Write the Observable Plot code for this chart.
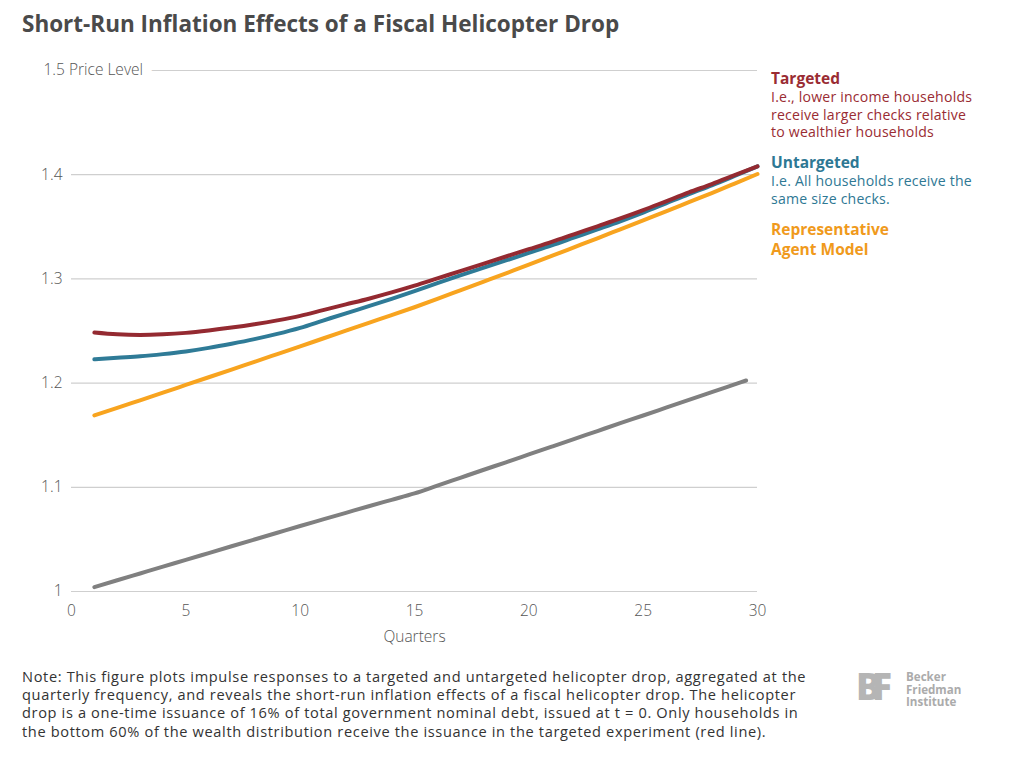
<!DOCTYPE html>
<html>
<head>
<meta charset="utf-8">
<script src="https://cdn.jsdelivr.net/npm/d3@7"></script>
<script src="https://cdn.jsdelivr.net/npm/@observablehq/plot@0.6"></script>
<style>
  html, body { margin: 0; padding: 0; background: #fff; }
  body { width: 1023px; height: 771px; position: relative; font-family: "Open Sans", Lato, sans-serif; overflow: hidden; }
  #title { position: absolute; left: 22px; top: 8px; font-size: 22.5px; font-weight: 700; color: #4a4a4a; white-space: nowrap; }
  #chart { position: absolute; left: 0; top: 45px; }
  .leg { position: absolute; left: 771px; }
  .leg .name { font-size: 15.5px; font-weight: 700; line-height: 20px; }
  .leg .desc { font-size: 14.1px; line-height: 17.5px; letter-spacing: 0.2px; }
  #note { position: absolute; left: 22px; top: 667px; font-size: 14.6px; line-height: 18.2px; letter-spacing: 0.64px; color: #333; white-space: nowrap; }
  #logo { position: absolute; left: 856px; top: 668px; color: #ababab; }
  #logo .mark { position: absolute; left: 0; top: -4px; font-size: 37px; font-weight: 800; letter-spacing: -9px; line-height: 44px; color: #b5b5b5; }
  #logo .txt { position: absolute; left: 50px; top: 3px; font-size: 11.6px; font-weight: 700; line-height: 12.7px; white-space: nowrap; }
</style>
</head>
<body>
<div id="title"></div>
<div id="chart"></div>
<div id="legend"></div>
<div id="note"></div>
<div id="logo"><div class="mark">BF</div><div class="txt">Becker<br>Friedman<br>Institute</div></div>
<script>
const titleText = "Short-Run Inflation Effects of a Fiscal Helicopter Drop";
const yAxisLabel = "Price Level";
const xAxisLabel = "Quarters";
const xTicks = [0, 5, 10, 15, 20, 25, 30];
const yTicks = [1, 1.1, 1.2, 1.3, 1.4, 1.5];

const quarters = [1,2,3,4,5,6,7,8,9,10,11,12,13,14,15,16,17,18,19,20,21,22,23,24,25,26,27,28,29,30];
const targeted = [1.2485,1.2468,1.2462,1.2468,1.2482,1.2505,1.2533,1.2565,1.2602,1.2645,1.2700,1.2755,1.2810,1.2870,1.2935,1.3005,1.3075,1.3145,1.3215,1.3285,1.3355,1.3430,1.3505,1.3580,1.3660,1.3745,1.3830,1.3910,1.3995,1.4080];
const untargeted = [1.2228,1.2243,1.2257,1.2278,1.2304,1.2338,1.2378,1.2422,1.2472,1.2530,1.2600,1.2670,1.2738,1.2808,1.2882,1.2959,1.3033,1.3105,1.3177,1.3249,1.3321,1.3398,1.3475,1.3553,1.3636,1.3725,1.3814,1.3898,1.3988,1.4080];
const representative = [1.1690,1.1762,1.1835,1.1908,1.1982,1.2056,1.2130,1.2204,1.2278,1.2352,1.2428,1.2503,1.2578,1.2652,1.2728,1.2808,1.2890,1.2972,1.3054,1.3136,1.3220,1.3305,1.3390,1.3476,1.3562,1.3648,1.3736,1.3824,1.3915,1.4007];
const grayQuarters = [1,2,3,4,5,6,7,8,9,10,11,12,13,14,15,16,17,18,19,20,21,22,23,24,25,26,27,28,29,29.5];
const baseline = [1.0042,1.0108,1.0173,1.0238,1.0304,1.0369,1.0434,1.0499,1.0564,1.0629,1.0692,1.0755,1.0818,1.0880,1.0942,1.1016,1.1091,1.1166,1.1240,1.1315,1.1390,1.1465,1.1540,1.1615,1.1689,1.1764,1.1839,1.1914,1.1988,1.2025];

const seriesNames = ["Targeted", "Untargeted", "Representative Agent Model", "Baseline"];
const seriesColors = ["#942a31", "#2f7b97", "#f8a41f", "#808080"];
const legendNames = [["Targeted"], ["Untargeted"], ["Representative", "Agent Model"]];
const legendNotes = [
  ["I.e., lower income households", "receive larger checks relative", "to wealthier households"],
  ["I.e. All households receive the", "same size checks."],
  []
];
const legendColors = ["#9a2c33", "#2e7894", "#f09a1c"];
const legendTops = [68, 152, 219];
const noteLines = [
  "Note: This figure plots impulse responses to a targeted and untargeted helicopter drop, aggregated at the",
  "quarterly frequency, and reveals the short-run inflation effects of a fiscal helicopter drop. The helicopter",
  "drop is a one-time issuance of 16% of total government nominal debt, issued at t = 0. Only households in",
  "the bottom 60% of the wealth distribution receive the issuance in the targeted experiment (red line)."
];

const rows = [];
const allSeries = [[quarters, targeted], [quarters, untargeted], [quarters, representative], [grayQuarters, baseline]];
[3, 2, 1, 0].forEach(i => {
  const [xs, ys] = allSeries[i];
  xs.forEach((q, j) => rows.push({series: seriesNames[i], q, v: ys[j]}));
});

document.getElementById("title").textContent = titleText;

const chart = Plot.plot({
  width: 1023,
  height: 615,
  marginLeft: 71,
  marginRight: 266,
  marginTop: 25,
  marginBottom: 69,
  x: {domain: [0, 30]},
  y: {domain: [1, 1.5]},
  color: {domain: seriesNames, range: seriesColors},
  style: {fontFamily: "'Open Sans', Lato, sans-serif", fontSize: "15.5px", color: "#555", background: "white", overflow: "visible"},
  marks: [
    Plot.ruleY(yTicks, {stroke: "#cfcfcf", strokeWidth: 1.2}),
    Plot.axisY(yTicks.filter(d => d < 1.5), {tickSize: 0, tickPadding: 9, label: null, fontWeight: 300, tickFormat: d => String(+d.toFixed(1))}),
    Plot.axisX(xTicks, {tickSize: 0, tickPadding: 13, label: null, fontWeight: 300}),
    Plot.text([xAxisLabel], {frameAnchor: "bottom", dy: 50, text: d => d, fontWeight: 300, fill: "#555"}),
    Plot.text(yTicks.filter(d => d === 1.5), {y: d => d, frameAnchor: "left", dx: -28, text: d => `${d} ${yAxisLabel}`, textAnchor: "start", fill: "#555", stroke: "white", strokeWidth: 20, fontWeight: 300}),
    Plot.line(rows, {x: "q", y: "v", z: "series", stroke: "series", strokeWidth: 4, curve: "monotone-x"})
  ]
});
document.getElementById("chart").appendChild(chart);

const legend = document.getElementById("legend");
legendNames.forEach((nm, i) => {
  const div = document.createElement("div");
  div.className = "leg";
  div.style.top = legendTops[i] + "px";
  div.style.color = legendColors[i];
  nm.forEach(t => { const e = document.createElement("div"); e.className = "name"; e.textContent = t; div.appendChild(e); });
  legendNotes[i].forEach(t => { const e = document.createElement("div"); e.className = "desc"; e.textContent = t; div.appendChild(e); });
  legend.appendChild(div);
});

document.getElementById("note").innerHTML = noteLines.join("<br>");
</script>
</body>
</html>
